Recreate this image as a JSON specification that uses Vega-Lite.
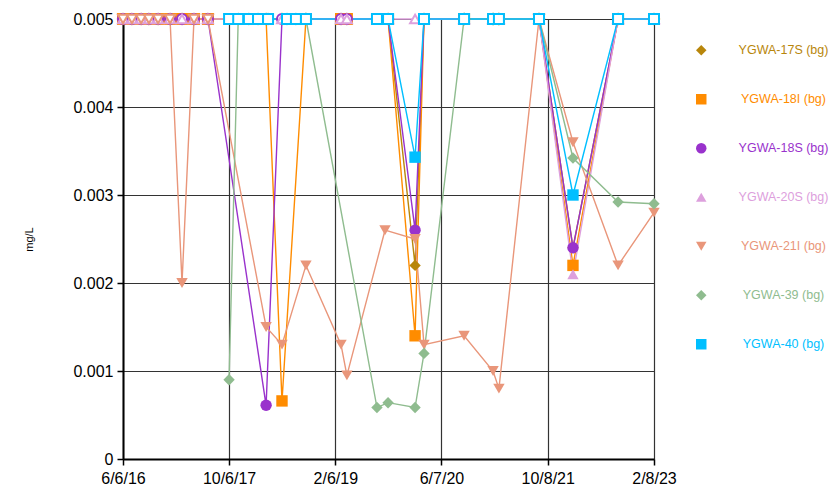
{
  "$schema": "https://vega.github.io/schema/vega-lite/v6.json",
  "width": 531,
  "height": 440,
  "autosize": {"type": "none"},
  "padding": {"left": 123, "top": 19, "right": 186, "bottom": 34},
  "background": "white",
  "config": {"font": "Liberation Sans", "view": {"stroke": null}},
  "datasets": {
    "rows": [
      {"s":"YGWA-17S (bg)","d":"2016-06-06","v":0.005,"nd":true},
      {"s":"YGWA-17S (bg)","d":"2016-07-17","v":0.005,"nd":true},
      {"s":"YGWA-17S (bg)","d":"2016-08-28","v":0.005,"nd":true},
      {"s":"YGWA-17S (bg)","d":"2016-10-03","v":0.005,"nd":true},
      {"s":"YGWA-17S (bg)","d":"2016-11-14","v":0.005,"nd":true},
      {"s":"YGWA-17S (bg)","d":"2017-01-08","v":0.005,"nd":true},
      {"s":"YGWA-17S (bg)","d":"2017-03-04","v":0.005,"nd":true},
      {"s":"YGWA-17S (bg)","d":"2017-04-28","v":0.005,"nd":true},
      {"s":"YGWA-17S (bg)","d":"2017-07-01","v":0.005,"nd":true},
      {"s":"YGWA-17S (bg)","d":"2018-03-25","v":0.005,"nd":true},
      {"s":"YGWA-17S (bg)","d":"2018-06-06","v":0.005,"nd":true},
      {"s":"YGWA-17S (bg)","d":"2018-09-24","v":0.005,"nd":true},
      {"s":"YGWA-17S (bg)","d":"2019-03-04","v":0.005,"nd":true},
      {"s":"YGWA-17S (bg)","d":"2019-03-31","v":0.005,"nd":true},
      {"s":"YGWA-17S (bg)","d":"2019-10-06","v":0.005,"nd":true},
      {"s":"YGWA-17S (bg)","d":"2020-02-07","v":0.0022,"nd":false},
      {"s":"YGWA-17S (bg)","d":"2020-03-19","v":0.005,"nd":true},
      {"s":"YGWA-17S (bg)","d":"2020-09-19","v":0.005,"nd":true},
      {"s":"YGWA-17S (bg)","d":"2021-01-30","v":0.005,"nd":true},
      {"s":"YGWA-17S (bg)","d":"2021-02-26","v":0.005,"nd":true},
      {"s":"YGWA-17S (bg)","d":"2021-08-29","v":0.005,"nd":true},
      {"s":"YGWA-17S (bg)","d":"2022-02-01","v":0.0024,"nd":false},
      {"s":"YGWA-17S (bg)","d":"2022-08-27","v":0.005,"nd":true},
      {"s":"YGWA-17S (bg)","d":"2023-02-08","v":0.005,"nd":true},

      {"s":"YGWA-18I (bg)","d":"2016-06-06","v":0.005,"nd":true},
      {"s":"YGWA-18I (bg)","d":"2016-07-17","v":0.005,"nd":true},
      {"s":"YGWA-18I (bg)","d":"2016-08-28","v":0.005,"nd":true},
      {"s":"YGWA-18I (bg)","d":"2016-10-03","v":0.005,"nd":true},
      {"s":"YGWA-18I (bg)","d":"2016-11-14","v":0.005,"nd":true},
      {"s":"YGWA-18I (bg)","d":"2017-01-08","v":0.005,"nd":true},
      {"s":"YGWA-18I (bg)","d":"2017-03-04","v":0.005,"nd":true},
      {"s":"YGWA-18I (bg)","d":"2017-04-28","v":0.005,"nd":true},
      {"s":"YGWA-18I (bg)","d":"2017-07-01","v":0.005,"nd":true},
      {"s":"YGWA-18I (bg)","d":"2018-03-25","v":0.005,"nd":true},
      {"s":"YGWA-18I (bg)","d":"2018-06-06","v":0.00066,"nd":false},
      {"s":"YGWA-18I (bg)","d":"2018-09-24","v":0.005,"nd":true},
      {"s":"YGWA-18I (bg)","d":"2019-03-04","v":0.005,"nd":true},
      {"s":"YGWA-18I (bg)","d":"2019-03-31","v":0.005,"nd":true},
      {"s":"YGWA-18I (bg)","d":"2019-10-06","v":0.005,"nd":true},
      {"s":"YGWA-18I (bg)","d":"2020-02-07","v":0.0014,"nd":false},
      {"s":"YGWA-18I (bg)","d":"2020-03-19","v":0.005,"nd":true},
      {"s":"YGWA-18I (bg)","d":"2020-09-19","v":0.005,"nd":true},
      {"s":"YGWA-18I (bg)","d":"2021-01-30","v":0.005,"nd":true},
      {"s":"YGWA-18I (bg)","d":"2021-02-26","v":0.005,"nd":true},
      {"s":"YGWA-18I (bg)","d":"2021-08-29","v":0.005,"nd":true},
      {"s":"YGWA-18I (bg)","d":"2022-02-01","v":0.0022,"nd":false},
      {"s":"YGWA-18I (bg)","d":"2022-08-27","v":0.005,"nd":true},
      {"s":"YGWA-18I (bg)","d":"2023-02-08","v":0.005,"nd":true},

      {"s":"YGWA-18S (bg)","d":"2016-06-06","v":0.005,"nd":true},
      {"s":"YGWA-18S (bg)","d":"2016-07-17","v":0.005,"nd":true},
      {"s":"YGWA-18S (bg)","d":"2016-08-28","v":0.005,"nd":true},
      {"s":"YGWA-18S (bg)","d":"2016-10-03","v":0.005,"nd":true},
      {"s":"YGWA-18S (bg)","d":"2016-11-14","v":0.005,"nd":true},
      {"s":"YGWA-18S (bg)","d":"2017-01-08","v":0.005,"nd":true},
      {"s":"YGWA-18S (bg)","d":"2017-03-04","v":0.005,"nd":true},
      {"s":"YGWA-18S (bg)","d":"2017-04-28","v":0.005,"nd":true},
      {"s":"YGWA-18S (bg)","d":"2017-07-01","v":0.005,"nd":true},
      {"s":"YGWA-18S (bg)","d":"2018-03-25","v":0.00061,"nd":false},
      {"s":"YGWA-18S (bg)","d":"2018-06-06","v":0.005,"nd":true},
      {"s":"YGWA-18S (bg)","d":"2018-09-24","v":0.005,"nd":true},
      {"s":"YGWA-18S (bg)","d":"2019-03-04","v":0.005,"nd":true},
      {"s":"YGWA-18S (bg)","d":"2019-03-31","v":0.005,"nd":true},
      {"s":"YGWA-18S (bg)","d":"2019-10-06","v":0.005,"nd":true},
      {"s":"YGWA-18S (bg)","d":"2020-02-07","v":0.0026,"nd":false},
      {"s":"YGWA-18S (bg)","d":"2020-03-19","v":0.005,"nd":true},
      {"s":"YGWA-18S (bg)","d":"2020-09-19","v":0.005,"nd":true},
      {"s":"YGWA-18S (bg)","d":"2021-01-30","v":0.005,"nd":true},
      {"s":"YGWA-18S (bg)","d":"2021-02-26","v":0.005,"nd":true},
      {"s":"YGWA-18S (bg)","d":"2021-08-29","v":0.005,"nd":true},
      {"s":"YGWA-18S (bg)","d":"2022-02-01","v":0.0024,"nd":false},
      {"s":"YGWA-18S (bg)","d":"2022-08-27","v":0.005,"nd":true},
      {"s":"YGWA-18S (bg)","d":"2023-02-08","v":0.005,"nd":true},

      {"s":"YGWA-20S (bg)","d":"2016-06-06","v":0.005,"nd":true},
      {"s":"YGWA-20S (bg)","d":"2016-07-17","v":0.005,"nd":true},
      {"s":"YGWA-20S (bg)","d":"2016-08-28","v":0.005,"nd":true},
      {"s":"YGWA-20S (bg)","d":"2016-10-03","v":0.005,"nd":true},
      {"s":"YGWA-20S (bg)","d":"2016-11-14","v":0.005,"nd":true},
      {"s":"YGWA-20S (bg)","d":"2017-01-08","v":0.005,"nd":true},
      {"s":"YGWA-20S (bg)","d":"2017-03-04","v":0.005,"nd":true},
      {"s":"YGWA-20S (bg)","d":"2017-04-28","v":0.005,"nd":true},
      {"s":"YGWA-20S (bg)","d":"2017-07-01","v":0.005,"nd":true},
      {"s":"YGWA-20S (bg)","d":"2018-03-25","v":0.005,"nd":true},
      {"s":"YGWA-20S (bg)","d":"2018-06-06","v":0.005,"nd":true},
      {"s":"YGWA-20S (bg)","d":"2018-09-24","v":0.005,"nd":true},
      {"s":"YGWA-20S (bg)","d":"2019-03-04","v":0.005,"nd":true},
      {"s":"YGWA-20S (bg)","d":"2019-03-31","v":0.005,"nd":true},
      {"s":"YGWA-20S (bg)","d":"2019-10-06","v":0.005,"nd":true},
      {"s":"YGWA-20S (bg)","d":"2020-02-07","v":0.005,"nd":true},
      {"s":"YGWA-20S (bg)","d":"2020-03-19","v":0.005,"nd":true},
      {"s":"YGWA-20S (bg)","d":"2020-09-19","v":0.005,"nd":true},
      {"s":"YGWA-20S (bg)","d":"2021-01-30","v":0.005,"nd":true},
      {"s":"YGWA-20S (bg)","d":"2021-02-26","v":0.005,"nd":true},
      {"s":"YGWA-20S (bg)","d":"2021-08-29","v":0.005,"nd":true},
      {"s":"YGWA-20S (bg)","d":"2022-02-01","v":0.0021,"nd":false},
      {"s":"YGWA-20S (bg)","d":"2022-08-27","v":0.005,"nd":true},
      {"s":"YGWA-20S (bg)","d":"2023-02-08","v":0.005,"nd":true},

      {"s":"YGWA-21I (bg)","d":"2016-06-06","v":0.005,"nd":true},
      {"s":"YGWA-21I (bg)","d":"2016-07-17","v":0.005,"nd":true},
      {"s":"YGWA-21I (bg)","d":"2016-08-28","v":0.005,"nd":true},
      {"s":"YGWA-21I (bg)","d":"2016-10-03","v":0.005,"nd":true},
      {"s":"YGWA-21I (bg)","d":"2016-11-14","v":0.005,"nd":true},
      {"s":"YGWA-21I (bg)","d":"2017-01-08","v":0.005,"nd":true},
      {"s":"YGWA-21I (bg)","d":"2017-03-04","v":0.002,"nd":false},
      {"s":"YGWA-21I (bg)","d":"2017-04-28","v":0.005,"nd":true},
      {"s":"YGWA-21I (bg)","d":"2017-07-01","v":0.005,"nd":true},
      {"s":"YGWA-21I (bg)","d":"2018-03-25","v":0.0015,"nd":false},
      {"s":"YGWA-21I (bg)","d":"2018-06-06","v":0.0013,"nd":false},
      {"s":"YGWA-21I (bg)","d":"2018-09-24","v":0.0022,"nd":false},
      {"s":"YGWA-21I (bg)","d":"2019-03-04","v":0.0013,"nd":false},
      {"s":"YGWA-21I (bg)","d":"2019-03-31","v":0.00095,"nd":false},
      {"s":"YGWA-21I (bg)","d":"2019-09-22","v":0.0026,"nd":false},
      {"s":"YGWA-21I (bg)","d":"2020-02-07","v":0.0025,"nd":false},
      {"s":"YGWA-21I (bg)","d":"2020-03-19","v":0.0013,"nd":false},
      {"s":"YGWA-21I (bg)","d":"2020-09-19","v":0.0014,"nd":false},
      {"s":"YGWA-21I (bg)","d":"2021-01-30","v":0.001,"nd":false},
      {"s":"YGWA-21I (bg)","d":"2021-02-26","v":0.0008,"nd":false},
      {"s":"YGWA-21I (bg)","d":"2021-08-29","v":0.005,"nd":true},
      {"s":"YGWA-21I (bg)","d":"2022-02-01","v":0.0036,"nd":false},
      {"s":"YGWA-21I (bg)","d":"2022-08-27","v":0.0022,"nd":false},
      {"s":"YGWA-21I (bg)","d":"2023-02-08","v":0.0028,"nd":false},

      {"s":"YGWA-39 (bg)","d":"2017-10-06","v":0.0009,"nd":false},
      {"s":"YGWA-39 (bg)","d":"2017-11-17","v":0.005,"nd":true},
      {"s":"YGWA-39 (bg)","d":"2018-01-05","v":0.005,"nd":true},
      {"s":"YGWA-39 (bg)","d":"2018-02-16","v":0.005,"nd":true},
      {"s":"YGWA-39 (bg)","d":"2018-04-03","v":0.005,"nd":true},
      {"s":"YGWA-39 (bg)","d":"2018-06-29","v":0.005,"nd":true},
      {"s":"YGWA-39 (bg)","d":"2018-08-09","v":0.005,"nd":true},
      {"s":"YGWA-39 (bg)","d":"2018-09-24","v":0.005,"nd":true},
      {"s":"YGWA-39 (bg)","d":"2019-08-16","v":0.000585,"nd":false},
      {"s":"YGWA-39 (bg)","d":"2019-10-06","v":0.00064,"nd":false},
      {"s":"YGWA-39 (bg)","d":"2020-02-07","v":0.000585,"nd":false},
      {"s":"YGWA-39 (bg)","d":"2020-03-19","v":0.0012,"nd":false},
      {"s":"YGWA-39 (bg)","d":"2020-09-19","v":0.005,"nd":true},
      {"s":"YGWA-39 (bg)","d":"2021-01-30","v":0.005,"nd":true},
      {"s":"YGWA-39 (bg)","d":"2021-02-26","v":0.005,"nd":true},
      {"s":"YGWA-39 (bg)","d":"2021-08-29","v":0.005,"nd":true},
      {"s":"YGWA-39 (bg)","d":"2022-02-01","v":0.00342,"nd":false},
      {"s":"YGWA-39 (bg)","d":"2022-08-27","v":0.00292,"nd":false},
      {"s":"YGWA-39 (bg)","d":"2023-02-08","v":0.0029,"nd":false},

      {"s":"YGWA-40 (bg)","d":"2017-10-06","v":0.005,"nd":true},
      {"s":"YGWA-40 (bg)","d":"2017-11-17","v":0.005,"nd":true},
      {"s":"YGWA-40 (bg)","d":"2018-01-05","v":0.005,"nd":true},
      {"s":"YGWA-40 (bg)","d":"2018-02-16","v":0.005,"nd":true},
      {"s":"YGWA-40 (bg)","d":"2018-04-03","v":0.005,"nd":true},
      {"s":"YGWA-40 (bg)","d":"2018-06-29","v":0.005,"nd":true},
      {"s":"YGWA-40 (bg)","d":"2018-08-09","v":0.005,"nd":true},
      {"s":"YGWA-40 (bg)","d":"2018-09-24","v":0.005,"nd":true},
      {"s":"YGWA-40 (bg)","d":"2019-08-16","v":0.005,"nd":true},
      {"s":"YGWA-40 (bg)","d":"2019-10-06","v":0.005,"nd":true},
      {"s":"YGWA-40 (bg)","d":"2020-02-07","v":0.00343,"nd":false},
      {"s":"YGWA-40 (bg)","d":"2020-03-19","v":0.005,"nd":true},
      {"s":"YGWA-40 (bg)","d":"2020-09-19","v":0.005,"nd":true},
      {"s":"YGWA-40 (bg)","d":"2021-01-30","v":0.005,"nd":true},
      {"s":"YGWA-40 (bg)","d":"2021-02-26","v":0.005,"nd":true},
      {"s":"YGWA-40 (bg)","d":"2021-08-29","v":0.005,"nd":true},
      {"s":"YGWA-40 (bg)","d":"2022-02-01","v":0.003,"nd":false},
      {"s":"YGWA-40 (bg)","d":"2022-08-27","v":0.005,"nd":true},
      {"s":"YGWA-40 (bg)","d":"2023-02-08","v":0.005,"nd":true}
    ]
  },
  "data": {"name": "rows"},
  "encoding": {
    "x": {
      "field": "d",
      "type": "temporal",
      "scale": {
        "type": "utc",
        "domain": [
          {"year": 2016, "month": 6, "date": 6, "utc": true},
          {"year": 2023, "month": 2, "date": 8, "utc": true}
        ]
      },
      "axis": {
        "title": null,
        "values": [
          {"year": 2016, "month": 6, "date": 6, "utc": true},
          {"year": 2017, "month": 10, "date": 6, "utc": true},
          {"year": 2019, "month": 2, "date": 6, "utc": true},
          {"year": 2020, "month": 6, "date": 7, "utc": true},
          {"year": 2021, "month": 10, "date": 8, "utc": true},
          {"year": 2023, "month": 2, "date": 8, "utc": true}
        ],
        "format": "%-m/%-d/%y",
        "labelFontSize": 16,
        "labelColor": "black",
        "labelFlush": false,
        "labelOverlap": false,
        "labelPadding": 5,
        "tickColor": "black",
        "tickSize": 6,
        "tickWidth": 1.5,
        "domainColor": "black",
        "domainWidth": 2,
        "gridColor": "#333333",
        "gridWidth": 1.2,
        "gridOpacity": 1
      }
    },
    "y": {
      "field": "v",
      "type": "quantitative",
      "scale": {"domain": [0, 0.005], "nice": false, "zero": true},
      "axis": {
        "title": "mg/L",
        "titleFontSize": 11,
        "titleFontWeight": "normal",
        "titleColor": "black",
        "titlePadding": 38,
        "values": [0, 0.001, 0.002, 0.003, 0.004, 0.005],
        "format": ".3~f",
        "labelFontSize": 16,
        "labelColor": "black",
        "labelFlush": false,
        "labelPadding": 4,
        "tickColor": "black",
        "tickSize": 6,
        "tickWidth": 1.5,
        "domainColor": "black",
        "domainWidth": 2,
        "gridColor": "#333333",
        "gridWidth": 1.2,
        "gridOpacity": 1
      }
    },
    "color": {
      "field": "s",
      "type": "nominal",
      "scale": {
        "domain": ["YGWA-17S (bg)", "YGWA-18I (bg)", "YGWA-18S (bg)", "YGWA-20S (bg)", "YGWA-21I (bg)", "YGWA-39 (bg)", "YGWA-40 (bg)"],
        "range": ["#B8860B", "#FF8C00", "#9932CC", "#DDA0DD", "#E9967A", "#8FBC8F", "#00BFFF"]
      },
      "legend": {
        "title": null,
        "orient": "none",
        "legendX": 572,
        "legendY": 25,
        "padding": 0,
        "rowPadding": 36,
        "symbolSize": 110,
        "symbolStrokeWidth": 0,
        "labelFontSize": 12.5,
        "labelAlign": "center",
        "labelOffset": 76,
        "labelLimit": 200,
        "encode": {
          "labels": {"update": {"fill": {"scale": "color", "field": "value"}}},
          "symbols": {"update": {"fill": {"scale": "color", "field": "value"}, "stroke": {"value": "transparent"}, "opacity": {"value": 1}}}
        }
      }
    }
  },
  "layer": [
    {
      "mark": {"type": "line", "strokeWidth": 1.4, "clip": false},
      "encoding": {}
    },
    {
      "transform": [{"filter": "datum.nd"}],
      "mark": {"type": "point", "filled": false, "fill": "white", "strokeWidth": 2, "opacity": 1, "size": 100},
      "encoding": {
        "shape": {
          "field": "s",
          "type": "nominal",
          "scale": {
            "domain": ["YGWA-17S (bg)", "YGWA-18I (bg)", "YGWA-18S (bg)", "YGWA-20S (bg)", "YGWA-21I (bg)", "YGWA-39 (bg)", "YGWA-40 (bg)"],
            "range": ["diamond", "square", "circle", "triangle-up", "triangle-down", "diamond", "square"]
          }
        }
      }
    },
    {
      "transform": [{"filter": "!datum.nd"}],
      "mark": {"type": "point", "filled": true, "opacity": 1, "size": 130},
      "encoding": {
        "shape": {
          "field": "s",
          "type": "nominal",
          "scale": {
            "domain": ["YGWA-17S (bg)", "YGWA-18I (bg)", "YGWA-18S (bg)", "YGWA-20S (bg)", "YGWA-21I (bg)", "YGWA-39 (bg)", "YGWA-40 (bg)"],
            "range": ["diamond", "square", "circle", "triangle-up", "triangle-down", "diamond", "square"]
          }
        }
      }
    }
  ]
}
